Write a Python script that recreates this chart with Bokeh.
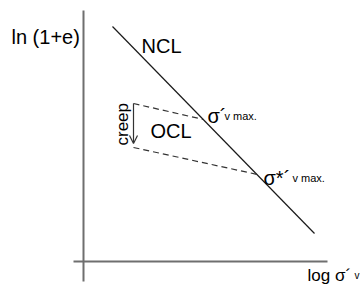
from bokeh.plotting import figure
from bokeh.models import ColumnDataSource, Arrow, OpenHead, Range1d
from bokeh.core.properties import value
from bokeh.embed import file_html
from bokeh.resources import INLINE
import math

# Schematic values (log sigma' on x, ln(1+e) on y), axes cross at (0, 0)
yaxis_x = [0.0, 0.0]
yaxis_y = [2.51, -0.20]
xaxis_x = [-0.10, 2.44]
xaxis_y = [0.0, 0.0]

ncl_x = [0.29, 2.31]
ncl_y = [2.35, 0.28]

ocl_upper_x = [0.50, 1.20]
ocl_upper_y = [1.58, 1.42]
ocl_lower_x = [0.50, 1.74]
ocl_lower_y = [1.14, 0.87]

creep_x = 0.50
creep_top = 1.58
creep_bottom = 1.18

big_labels = ["ln (1+e)", "NCL", "OCL", "σ´", "σ*´"]
big_x = [-0.72, 0.58, 0.67, 1.24, 1.80]
big_y = [2.25, 2.16, 1.31, 1.46, 0.84]

sub_labels = ["v max.", "v max."]
sub_x = [1.41, 2.09]
sub_y = [1.46, 0.84]

xlabel = ["log σ´"]
xlabel_x = [2.24]
xlabel_y = [-0.135]
xsub = ["v"]
xsub_x = [2.71]
xsub_y = [-0.135]

creep_label = ["creep"]
creep_lx = [0.385]
creep_ly = [1.16]

FONT = value("Liberation Sans")

p = figure(width=363, height=284, output_backend="svg", toolbar_location=None,
           x_range=Range1d(-0.83, 2.80), y_range=Range1d(-0.23, 2.61),
           min_border=0)
p.axis.visible = False
p.grid.visible = False
p.outline_line_color = None
p.background_fill_color = "white"
p.border_fill_color = "white"

p.line(yaxis_x, yaxis_y, line_color="#6f6f6f", line_width=2)
p.line(xaxis_x, xaxis_y, line_color="#6f6f6f", line_width=2)
p.line(ncl_x, ncl_y, line_color="#1a1a1a", line_width=1.2)
p.line(ocl_upper_x, ocl_upper_y, line_color="#333333", line_width=1.2, line_dash="6 4")
p.line(ocl_lower_x, ocl_lower_y, line_color="#333333", line_width=1.2, line_dash="6 4")

p.add_layout(Arrow(end=OpenHead(size=8, line_color="#333333", line_width=1.2),
                   x_start=creep_x, y_start=creep_top, x_end=creep_x, y_end=creep_bottom,
                   line_color="#333333", line_width=1.2))

p.text(x=big_x, y=big_y, text=big_labels, text_font=FONT, text_font_size="20px",
       text_color="black", text_align="left", text_baseline="alphabetic")
p.text(x=sub_x, y=sub_y, text=sub_labels, text_font=FONT, text_font_size="11px",
       text_color="black", text_align="left", text_baseline="alphabetic")
p.text(x=xlabel_x, y=xlabel_y, text=xlabel, text_font=FONT, text_font_size="17px",
       text_color="black", text_align="left", text_baseline="alphabetic")
p.text(x=xsub_x, y=xsub_y, text=xsub, text_font=FONT, text_font_size="10px",
       text_color="black", text_align="left", text_baseline="alphabetic")
p.text(x=creep_lx, y=creep_ly, text=creep_label, text_font=FONT, text_font_size="17px",
       text_color="black", text_align="left", text_baseline="alphabetic", angle=math.pi / 2)

open("out.html", "w").write(file_html(p, INLINE))
